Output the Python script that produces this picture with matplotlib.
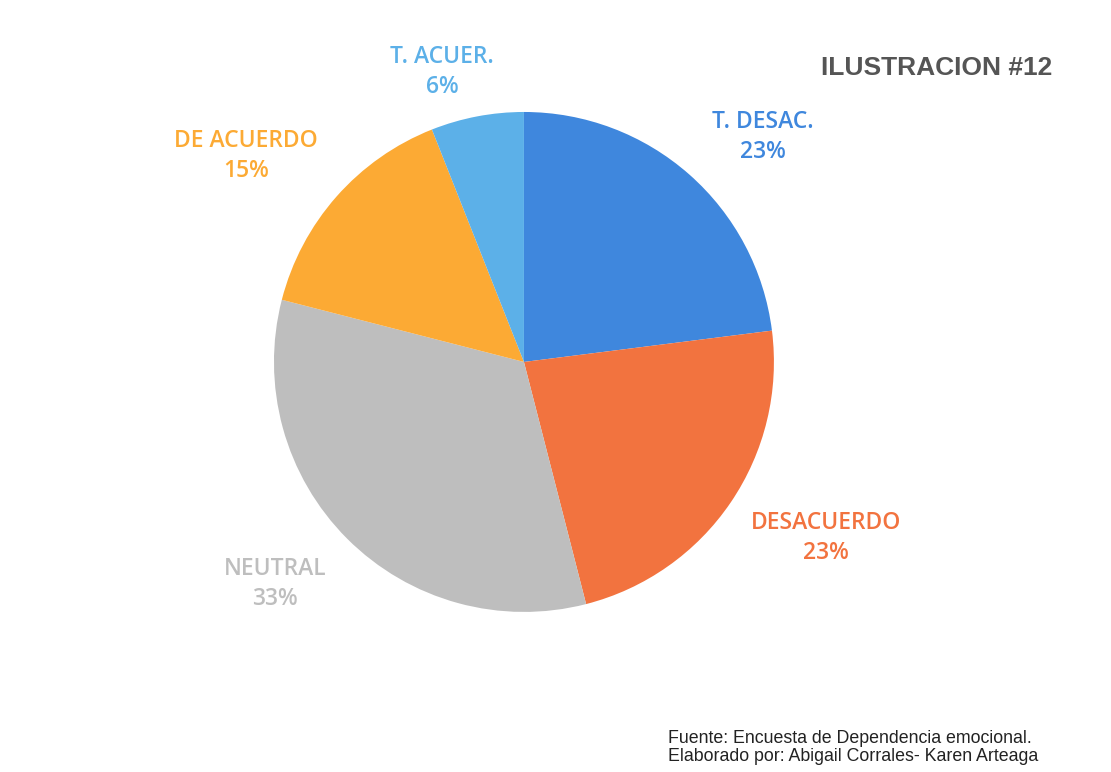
import matplotlib.pyplot as plt

# Data
labels = ['T. DESAC.', 'DESACUERDO', 'NEUTRAL', 'DE ACUERDO', 'T. ACUER.']
percents = [23, 23, 33, 15, 6]
colors = ['#3f87dd', '#f2733f', '#bebebe', '#fcaa34', '#5cb0e8']
# label positions in pie units (radius = 1)
label_pos = [(0.956, 0.90), (1.208, -0.704), (-0.996, -0.888), (-1.112, 0.824), (-0.328, 1.16)]

fig = plt.figure(figsize=(11.11, 7.72), dpi=100)
ax = fig.add_axes([0.2466, 0.2073, 0.4500, 0.6477])

ax.pie(percents, colors=colors, startangle=90, counterclock=False, radius=1,
       wedgeprops=dict(linewidth=0))
ax.set_xlim(-1, 1)
ax.set_ylim(-1, 1)
ax.set_aspect('equal')
ax.axis('off')

for lab, p, c, (x, y) in zip(labels, percents, colors, label_pos):
    ax.text(x, y, f'{lab}\n{p}%', ha='center', va='center', color=c,
            fontsize=16.5, fontweight='semibold', family='Open Sans', linespacing=1.3)

fig.text(0.947, 0.912, 'ILUSTRACION #12', ha='right', va='center', fontsize=19,
         fontweight='bold', color='#555555', family='Liberation Sans')

fig.text(0.601, 0.032, 'Fuente: Encuesta de Dependencia emocional.\nElaborado por: Abigail Corrales- Karen Arteaga',
         ha='left', va='center', fontsize=12.8, color='#222222', family='Liberation Sans', linespacing=1.1)

plt.savefig('out.png', dpi=100)
